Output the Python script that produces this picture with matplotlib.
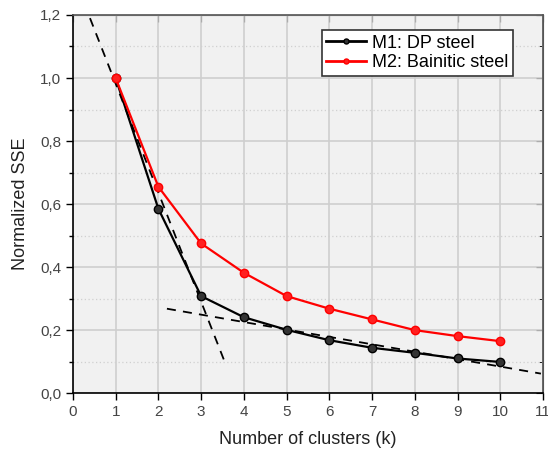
import numpy as np
import matplotlib.pyplot as plt
from matplotlib.ticker import MultipleLocator, FuncFormatter

plt.rcParams['font.family'] = ['Liberation Sans', 'DejaVu Sans']

k = [1, 2, 3, 4, 5, 6, 7, 8, 9, 10]
sse_dp = [1.0, 0.585, 0.308, 0.241, 0.201, 0.168, 0.144, 0.128, 0.110, 0.099]
sse_bain = [1.0, 0.655, 0.475, 0.382, 0.308, 0.268, 0.234, 0.200, 0.181, 0.165]

# elbow tangent lines
tan1_x = [0.4, 3.55]
tan1_y = [1.19, 0.10]
tan2_x = [2.2, 10.95]
tan2_y = [0.268, 0.062]

fig = plt.figure(figsize=(5.48, 4.54), dpi=100)
ax = fig.add_axes([0.133, 0.134, 0.858, 0.833])
ax.set_facecolor('#f1f1f1')

ax.plot(tan1_x, tan1_y, '--', color='black', lw=1.3, dashes=(5, 4), zorder=4)
ax.plot(tan2_x, tan2_y, '--', color='black', lw=1.3, dashes=(5, 4), zorder=4)

ax.plot(k, sse_dp, '-o', color='black', lw=1.6, ms=6, mfc='#333333', mec='black',
        label='M1: DP steel', zorder=5)
ax.plot(k, sse_bain, '-o', color='#ff0000', lw=1.6, ms=6, mfc='#ff2020', mec='#ff0000',
        label='M2: Bainitic steel', zorder=5)

ax.set_xlim(0, 11)
ax.set_ylim(0, 1.2)
ax.xaxis.set_major_locator(MultipleLocator(1))
ax.yaxis.set_major_locator(MultipleLocator(0.2))
ax.yaxis.set_minor_locator(MultipleLocator(0.1))
ax.yaxis.set_major_formatter(FuncFormatter(lambda v, p: f'{v:.1f}'.replace('.', ',')))

ax.grid(which='major', color='#cfcfcf', lw=1.2, zorder=0)
ax.grid(which='minor', axis='y', color='#d0d0d0', lw=0.9, ls=(0, (1, 2)), zorder=0)
ax.set_axisbelow(True)

ax.tick_params(which='both', direction='out', labelsize=11, length=5, width=1)
ax.tick_params(which='minor', length=3)
ax.tick_params(axis='both', which='both', labelcolor='#444444', color='black')

# inward ticks on the top and right edges
ax2 = ax.secondary_xaxis('top')
ax2.xaxis.set_major_locator(MultipleLocator(1))
ax2.tick_params(direction='in', length=5, labeltop=False)
ax3 = ax.secondary_yaxis('right')
ax3.yaxis.set_major_locator(MultipleLocator(0.2))
ax3.yaxis.set_minor_locator(MultipleLocator(0.1))
ax3.tick_params(which='both', direction='in', length=5, labelright=False)
ax3.tick_params(which='minor', length=3)

for s in ax.spines.values():
    s.set_color('#555555')
    s.set_linewidth(1.2)
ax.spines['bottom'].set_color('black')
ax.spines['left'].set_color('black')
ax2.spines['top'].set_color('#555555')
ax3.spines['right'].set_color('#555555')

ax.set_xlabel('Number of clusters (k)', fontsize=13, color='#222222', labelpad=9)
ax.set_ylabel('Normalized SSE', fontsize=13, color='#222222', labelpad=8)

leg = ax.legend(loc='upper right', bbox_to_anchor=(0.935, 0.96), fontsize=13,
                frameon=True, fancybox=False, edgecolor='#333333', framealpha=1,
                handlelength=2.2, handletextpad=0.3, borderpad=0.25, labelspacing=0.15,
                markerscale=0.6, borderaxespad=0)
leg.get_frame().set_linewidth(1.2)
for h in leg.get_lines():
    h.set_linewidth(2.0)

fig.savefig('out.png', dpi=100)
